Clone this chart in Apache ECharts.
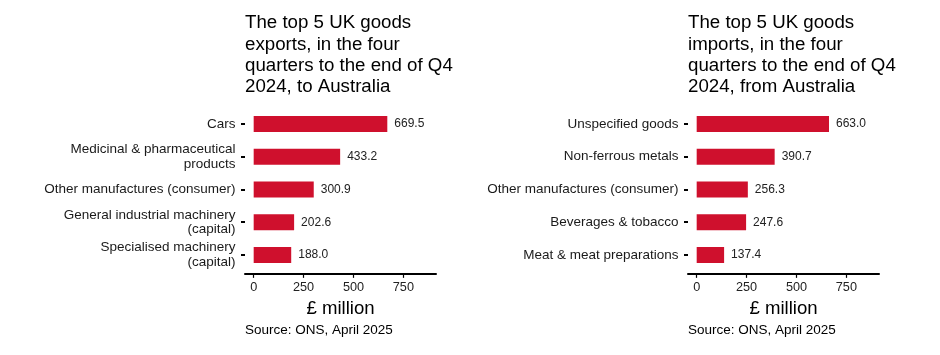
<!DOCTYPE html>
<html>
<head>
<meta charset="utf-8">
<script src="https://cdn.jsdelivr.net/npm/echarts@6/dist/echarts.min.js"></script>
<style>
html,body{margin:0;padding:0;background:#fff;}
#chart{width:940px;height:355px;}
</style>
</head>
<body>
<div id="chart"></div>
<script>
const exportCategories = ["Cars", "Medicinal & pharmaceutical\nproducts", "Other manufactures (consumer)", "General industrial machinery\n(capital)", "Specialised machinery\n(capital)"];
const exportValues = [669.5, 433.2, 300.9, 202.6, 188.0];
const importCategories = ["Unspecified goods", "Non-ferrous metals", "Other manufactures (consumer)", "Beverages & tobacco", "Meat & meat preparations"];
const importValues = [663.0, 390.7, 256.3, 247.6, 137.4];
const tickValues = [0, 250, 500, 750];
const exportTitle = "The top 5 UK goods\nexports, in the four\nquarters to the end of Q4\n2024, to Australia";
const importTitle = "The top 5 UK goods\nimports, in the four\nquarters to the end of Q4\n2024, from Australia";
const axisName = "£ million";
const sourceText = "Source: ONS, April 2025";

const FONT = "Liberation Sans, Arial, sans-serif";
const BAR = "#CF102D";
const panels = [
  {left: 245, cats: exportCategories, vals: exportValues, title: exportTitle},
  {left: 688, cats: importCategories, vals: importValues, title: importTitle}
];

const chart = echarts.init(document.getElementById('chart'), null, {renderer: 'canvas'});
const option = {
  animation: false,
  backgroundColor: '#fff',
  title: [],
  grid: [],
  xAxis: [],
  yAxis: [],
  series: []
};
panels.forEach((p, i) => {
  option.title.push({
    text: p.title, left: p.left, top: 12.5, padding: 0,
    textStyle: {fontFamily: FONT, fontSize: 18.7, fontWeight: 'normal', color: '#000', lineHeight: 21.3}
  });
  option.title.push({
    text: sourceText, left: p.left, top: 323.5, padding: 0,
    textStyle: {fontFamily: FONT, fontSize: 13.5, fontWeight: 'normal', color: '#000'}
  });
  option.grid.push({left: p.left, width: 191, top: 107.6, height: 163.75, containLabel: false});
  option.xAxis.push({
    type: 'value', gridIndex: i, min: -43.5, max: 913.5, offset: 2.5,
    axisLine: {show: true, lineStyle: {color: '#000', width: 2}},
    axisTick: {show: true, customValues: tickValues, length: 4, lineStyle: {color: '#000', width: 1.2}},
    axisLabel: {customValues: tickValues, margin: 7, fontFamily: FONT, fontSize: 12.7, color: '#222'},
    splitLine: {show: false},
    name: axisName, nameLocation: 'middle', nameGap: 26,
    nameTextStyle: {fontFamily: FONT, fontSize: 18.6, color: '#000'}
  });
  option.yAxis.push({
    type: 'category', gridIndex: i, data: p.cats, inverse: true,
    axisLine: {show: false, onZero: false},
    axisTick: {show: true, alignWithLabel: true, length: 4, lineStyle: {color: '#000', width: 2}},
    axisLabel: {margin: 9.5, fontFamily: FONT, fontSize: 13.5, lineHeight: 14.7, color: '#1a1a1a', align: 'right'},
    splitLine: {show: false}
  });
  option.series.push({
    type: 'bar', xAxisIndex: i, yAxisIndex: i, data: p.vals, barWidth: 16,
    itemStyle: {color: BAR},
    label: {show: true, position: 'right', distance: 7, fontFamily: FONT, fontSize: 12, color: '#222',
      formatter: (d) => d.value.toFixed(1)}
  });
});
chart.setOption(option);
</script>
</body>
</html>
